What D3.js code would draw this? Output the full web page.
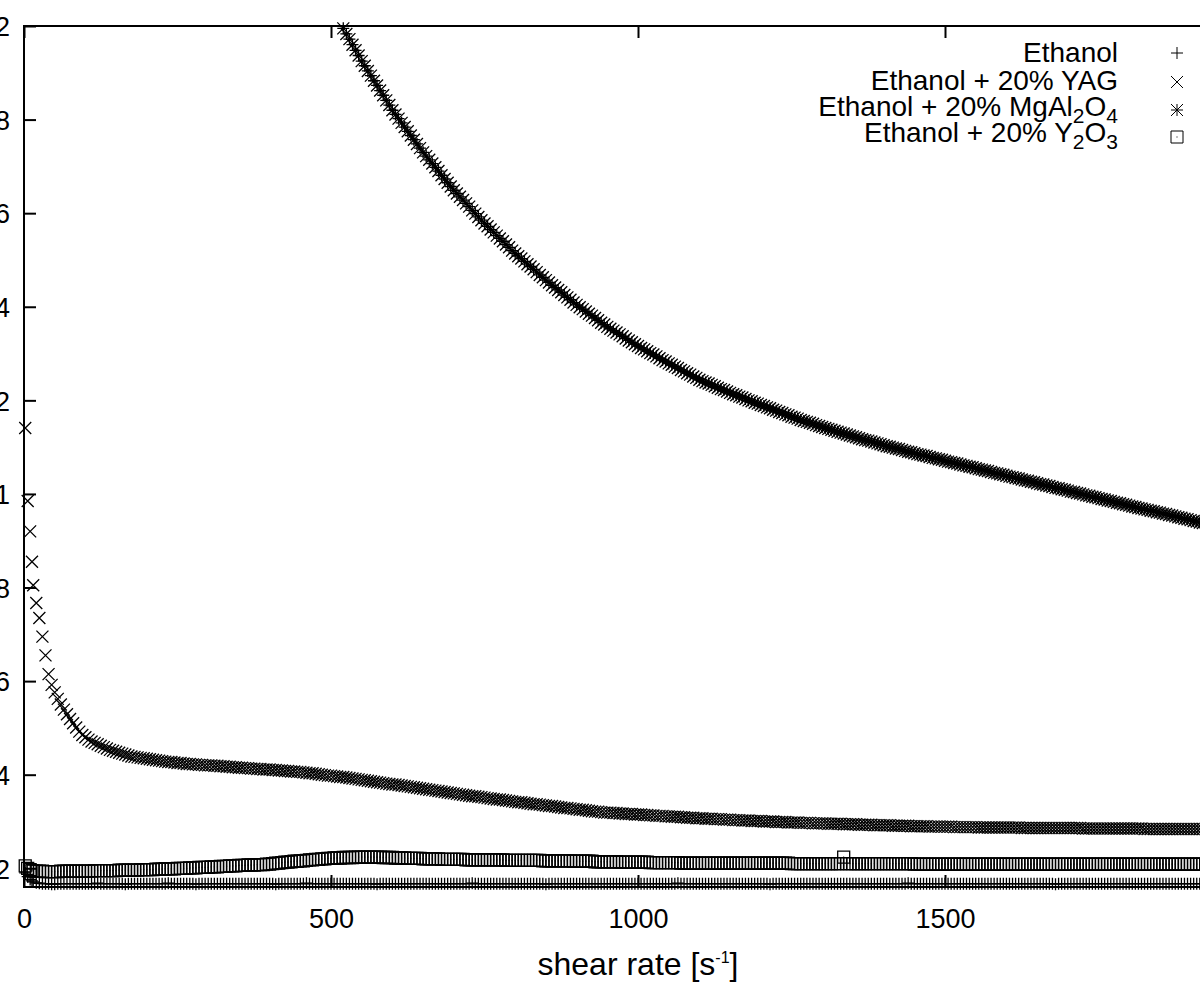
<!DOCTYPE html>
<html><head><meta charset="utf-8">
<script src="https://cdn.jsdelivr.net/npm/d3@7"></script>
<style>html,body{margin:0;padding:0;background:#fff;overflow:hidden}svg{display:block}</style>
</head><body><svg id="chart" width="1200" height="988"></svg>
<script>
// shear rate grid [1/s]
const shearRate = [2,6,10,13,
15,20,25,30,35,40,45,50,55,60,65,70,75,80,85,90,95,
100,105,110,115,120,125,130,135,140,145,150,155,160,165,170,175,180,185,190,195,
200,205,210,215,220,225,230,235,240,245,250,255,260,265,270,275,280,285,290,295,
300,305,310,315,320,325,330,335,340,345,350,355,360,365,370,375,380,385,390,395,
400,405,410,415,420,425,430,435,440,445,450,455,460,465,470,475,480,485,490,495,
500,505,510,515,520,525,530,535,540,545,550,555,560,565,570,575,580,585,590,595,
600,605,610,615,620,625,630,635,640,645,650,655,660,665,670,675,680,685,690,695,
700,705,710,715,720,725,730,735,740,745,750,755,760,765,770,775,780,785,790,795,
800,805,810,815,820,825,830,835,840,845,850,855,860,865,870,875,880,885,890,895,
900,905,910,915,920,925,930,935,940,945,950,955,960,965,970,975,980,985,990,995,
1000,1005,1010,1015,1020,1025,1030,1035,1040,1045,1050,1055,1060,1065,1070,1075,1080,1085,1090,1095,
1100,1105,1110,1115,1120,1125,1130,1135,1140,1145,1150,1155,1160,1165,1170,1175,1180,1185,1190,1195,
1200,1205,1210,1215,1220,1225,1230,1235,1240,1245,1250,1255,1260,1265,1270,1275,1280,1285,1290,1295,
1300,1305,1310,1315,1320,1325,1330,1335,1340,1345,1350,1355,1360,1365,1370,1375,1380,1385,1390,1395,
1400,1405,1410,1415,1420,1425,1430,1435,1440,1445,1450,1455,1460,1465,1470,1475,1480,1485,1490,1495,
1500,1505,1510,1515,1520,1525,1530,1535,1540,1545,1550,1555,1560,1565,1570,1575,1580,1585,1590,1595,
1600,1605,1610,1615,1620,1625,1630,1635,1640,1645,1650,1655,1660,1665,1670,1675,1680,1685,1690,1695,
1700,1705,1710,1715,1720,1725,1730,1735,1740,1745,1750,1755,1760,1765,1770,1775,1780,1785,1790,1795,
1800,1805,1810,1815,1820,1825,1830,1835,1840,1845,1850,1855,1860,1865,1870,1875,1880,1885,1890,1895,
1900,1905,1910,1915,1920];

// viscosities in mPa·s (converted to Pa·s for the axis)
const ethanol = [1.90,1.82,1.76,1.73,
1.71,1.69,1.68,1.67,1.67,1.67,1.66,1.66,1.67,1.67,1.67,1.67,1.67,1.67,1.67,1.67,1.67,
1.67,1.67,1.67,1.67,1.68,1.67,1.67,1.67,1.67,1.67,1.67,1.67,1.67,1.66,1.67,1.67,1.67,1.67,1.67,1.67,
1.67,1.67,1.67,1.67,1.67,1.67,1.67,1.68,1.67,1.67,1.67,1.67,1.67,1.67,1.67,1.67,1.66,1.67,1.67,1.67,
1.67,1.67,1.67,1.67,1.67,1.67,1.67,1.67,1.67,1.67,1.67,1.67,1.67,1.67,1.67,1.67,1.67,1.67,1.67,1.67,
1.67,1.67,1.66,1.67,1.67,1.67,1.67,1.67,1.67,1.67,1.67,1.67,1.68,1.67,1.67,1.67,1.67,1.67,1.67,1.67,
1.67,1.67,1.67,1.67,1.67,1.67,1.67,1.67,1.67,1.67,1.67,1.67,1.67,1.67,1.67,1.66,1.67,1.67,1.67,1.67,
1.67,1.67,1.67,1.67,1.67,1.67,1.67,1.67,1.67,1.67,1.67,1.67,1.67,1.67,1.67,1.67,1.67,1.67,1.67,1.67,
1.67,1.67,1.67,1.67,1.67,1.67,1.68,1.67,1.67,1.67,1.67,1.67,1.67,1.67,1.67,1.67,1.67,1.67,1.67,1.67,
1.67,1.67,1.67,1.67,1.67,1.67,1.67,1.67,1.67,1.67,1.66,1.67,1.67,1.67,1.67,1.67,1.67,1.67,1.67,1.67,
1.67,1.67,1.67,1.67,1.67,1.67,1.67,1.67,1.67,1.67,1.67,1.67,1.67,1.67,1.67,1.67,1.67,1.67,1.67,1.67,
1.67,1.67,1.67,1.67,1.67,1.67,1.67,1.67,1.67,1.67,1.67,1.67,1.67,1.68,1.67,1.67,1.67,1.67,1.67,1.67,
1.67,1.67,1.67,1.67,1.67,1.67,1.67,1.67,1.67,1.67,1.67,1.67,1.67,1.67,1.67,1.67,1.67,1.67,1.67,1.67,
1.67,1.67,1.67,1.66,1.67,1.67,1.67,1.67,1.67,1.67,1.67,1.67,1.67,1.67,1.67,1.67,1.67,1.67,1.67,1.67,
1.67,1.67,1.67,1.67,1.67,1.67,1.67,1.67,1.67,1.67,1.67,1.67,1.67,1.67,1.67,1.67,1.67,1.67,1.67,1.67,
1.67,1.67,1.67,1.67,1.67,1.67,1.67,1.67,1.68,1.67,1.67,1.67,1.67,1.67,1.67,1.67,1.67,1.67,1.67,1.67,
1.67,1.67,1.67,1.67,1.67,1.67,1.67,1.67,1.67,1.67,1.67,1.67,1.67,1.67,1.67,1.67,1.67,1.67,1.67,1.67,
1.67,1.67,1.67,1.67,1.67,1.67,1.67,1.67,1.67,1.67,1.67,1.67,1.67,1.67,1.67,1.67,1.66,1.67,1.67,1.67,
1.67,1.67,1.67,1.67,1.67,1.67,1.67,1.67,1.67,1.67,1.67,1.67,1.67,1.67,1.67,1.67,1.67,1.67,1.67,1.67,
1.67,1.67,1.67,1.67,1.67,1.67,1.67,1.67,1.67,1.67,1.67,1.67,1.67,1.67,1.67,1.67,1.67,1.67,1.67,1.67,
1.67,1.67,1.67,1.67,1.67];

const yag = [11.41,9.85,9.20,8.55,
8.05,7.67,7.35,6.95,6.55,6.15,5.92,5.76,5.62,5.50,5.39,5.29,5.19,5.10,5.01,4.92,4.85,
4.80,4.75,4.71,4.68,4.65,4.62,4.59,4.56,4.53,4.51,4.49,4.47,4.45,4.43,4.41,4.39,4.38,4.37,4.36,4.35,
4.34,4.33,4.32,4.31,4.30,4.29,4.28,4.27,4.27,4.26,4.25,4.25,4.24,4.23,4.23,4.22,4.22,4.21,4.21,4.20,
4.20,4.20,4.19,4.19,4.18,4.18,4.17,4.17,4.16,4.16,4.15,4.15,4.14,4.14,4.13,4.13,4.12,4.12,4.11,4.11,
4.11,4.10,4.10,4.09,4.09,4.08,4.08,4.07,4.07,4.06,4.06,4.05,4.04,4.03,4.03,4.02,4.01,4.00,3.99,3.98,
3.98,3.97,3.96,3.95,3.95,3.94,3.93,3.92,3.91,3.90,3.89,3.88,3.87,3.86,3.85,3.84,3.83,3.82,3.81,3.80,
3.79,3.79,3.78,3.77,3.76,3.75,3.74,3.73,3.72,3.71,3.70,3.69,3.68,3.67,3.66,3.65,3.64,3.63,3.62,3.61,
3.60,3.59,3.58,3.57,3.56,3.55,3.54,3.54,3.53,3.52,3.51,3.50,3.49,3.48,3.47,3.47,3.46,3.45,3.44,3.43,
3.42,3.41,3.41,3.40,3.39,3.38,3.37,3.37,3.36,3.35,3.34,3.33,3.33,3.32,3.31,3.30,3.29,3.29,3.28,3.27,
3.26,3.25,3.25,3.24,3.23,3.22,3.21,3.21,3.20,3.19,3.19,3.19,3.18,3.18,3.17,3.17,3.16,3.16,3.16,3.15,
3.15,3.15,3.14,3.14,3.13,3.13,3.12,3.12,3.12,3.11,3.11,3.10,3.10,3.10,3.09,3.09,3.08,3.08,3.08,3.07,
3.07,3.07,3.06,3.06,3.06,3.05,3.05,3.05,3.04,3.04,3.04,3.03,3.03,3.03,3.02,3.02,3.02,3.01,3.01,3.01,
3.01,3.00,3.00,3.00,3.00,2.99,2.99,2.99,2.99,2.98,2.98,2.98,2.98,2.97,2.97,2.97,2.97,2.96,2.96,2.96,
2.96,2.96,2.95,2.95,2.95,2.95,2.95,2.94,2.94,2.94,2.94,2.94,2.93,2.93,2.93,2.93,2.93,2.92,2.92,2.92,
2.92,2.92,2.92,2.91,2.91,2.91,2.91,2.91,2.91,2.90,2.90,2.90,2.90,2.90,2.90,2.89,2.89,2.89,2.89,2.89,
2.89,2.89,2.89,2.88,2.88,2.88,2.88,2.88,2.88,2.88,2.88,2.87,2.87,2.87,2.87,2.87,2.87,2.87,2.87,2.87,
2.87,2.87,2.87,2.87,2.87,2.86,2.86,2.86,2.86,2.86,2.86,2.86,2.86,2.86,2.86,2.86,2.86,2.86,2.86,2.86,
2.86,2.86,2.86,2.86,2.86,2.85,2.85,2.85,2.85,2.85,2.85,2.85,2.85,2.85,2.85,2.85,2.85,2.85,2.85,2.85,
2.85,2.85,2.85,2.85,2.85,2.84,2.84,2.84,2.84,2.84,2.84,2.84,2.84,2.84,2.84,2.84,2.84,2.84,2.84,2.84,
2.84,2.84,2.84,2.84,2.84];

// MgAl2O4 suspension: values above 0.02 Pa·s are off the chart, first visible point at 520 1/s
const mgal2o4StartShear = 520;
const mgal2o4 = [19.95,19.83,19.72,19.60,19.48,19.37,19.25,19.15,19.04,18.94,18.83,18.73,18.62,18.52,18.41,18.31,
18.20,18.11,18.02,17.93,17.84,17.75,17.66,17.57,17.48,17.39,17.30,17.22,17.14,17.06,16.98,16.90,16.81,16.73,16.65,16.57,
16.49,16.42,16.35,16.28,16.21,16.14,16.06,15.99,15.92,15.85,15.78,15.72,15.65,15.59,15.52,15.46,15.40,15.33,15.27,15.20,
15.14,15.08,15.03,14.97,14.91,14.86,14.80,14.74,14.68,14.63,14.57,14.52,14.46,14.41,14.36,14.31,14.25,14.20,14.15,14.09,
14.04,13.99,13.95,13.90,13.85,13.81,13.76,13.71,13.66,13.62,13.57,13.53,13.49,13.45,13.41,13.37,13.32,13.28,13.24,13.20,
13.16,13.12,13.09,13.05,13.01,12.98,12.94,12.90,12.86,12.83,12.79,12.76,12.72,12.69,12.65,12.62,12.58,12.55,12.51,12.48,
12.44,12.41,12.38,12.36,12.33,12.30,12.27,12.24,12.22,12.19,12.16,12.13,12.11,12.08,12.06,12.03,12.00,11.98,11.95,11.93,
11.90,11.88,11.85,11.83,11.80,11.78,11.75,11.73,11.70,11.68,11.65,11.63,11.61,11.58,11.56,11.54,11.52,11.50,11.47,11.45,
11.43,11.41,11.39,11.37,11.35,11.33,11.31,11.29,11.27,11.25,11.23,11.21,11.19,11.17,11.15,11.14,11.12,11.10,11.08,11.06,
11.04,11.02,11.01,10.99,10.97,10.96,10.94,10.92,10.90,10.89,10.87,10.85,10.84,10.82,10.81,10.79,10.77,10.76,10.74,10.73,
10.71,10.69,10.68,10.66,10.65,10.63,10.61,10.60,10.58,10.57,10.55,10.53,10.52,10.50,10.49,10.47,10.45,10.44,10.42,10.41,
10.39,10.37,10.36,10.34,10.33,10.31,10.29,10.28,10.26,10.25,10.23,10.21,10.20,10.18,10.17,10.15,10.13,10.12,10.10,10.09,
10.07,10.05,10.04,10.02,10.01,9.99,9.97,9.96,9.94,9.93,9.91,9.89,9.88,9.86,9.85,9.83,9.81,9.80,9.78,9.77,
9.75,9.73,9.72,9.70,9.69,9.67,9.66,9.64,9.63,9.61,9.60,9.58,9.57,9.55,9.54,9.52,9.50,9.49,9.47,9.46,
9.44,9.42,9.41,9.39,9.38];

const y2o3 = [2.05,2.00,1.97,1.95,
1.94,1.94,1.94,1.94,1.93,1.93,1.93,1.93,1.93,1.94,1.94,1.94,1.94,1.94,1.94,1.94,1.94,
1.94,1.94,1.94,1.95,1.95,1.95,1.95,1.95,1.95,1.95,1.95,1.96,1.96,1.96,1.96,1.96,1.96,1.96,1.97,1.97,
1.97,1.97,1.97,1.98,1.98,1.98,1.99,1.99,1.99,1.99,2.00,2.00,2.00,2.00,2.01,2.01,2.01,2.02,2.02,2.02,
2.02,2.03,2.03,2.03,2.04,2.04,2.04,2.05,2.05,2.05,2.06,2.06,2.06,2.07,2.07,2.07,2.08,2.08,2.08,2.09,
2.09,2.10,2.11,2.11,2.12,2.13,2.13,2.14,2.15,2.15,2.16,2.16,2.17,2.18,2.18,2.19,2.19,2.20,2.20,2.21,
2.21,2.22,2.22,2.22,2.23,2.23,2.23,2.23,2.24,2.24,2.24,2.24,2.24,2.24,2.24,2.24,2.24,2.23,2.23,2.23,
2.23,2.22,2.22,2.22,2.22,2.21,2.21,2.21,2.21,2.21,2.20,2.20,2.20,2.20,2.20,2.20,2.19,2.19,2.19,2.19,
2.19,2.19,2.19,2.19,2.18,2.18,2.18,2.18,2.18,2.18,2.18,2.18,2.18,2.18,2.18,2.18,2.18,2.17,2.17,2.17,
2.17,2.17,2.17,2.17,2.17,2.17,2.17,2.17,2.17,2.16,2.16,2.16,2.16,2.16,2.16,2.16,2.16,2.16,2.16,2.15,
2.15,2.15,2.15,2.15,2.15,2.15,2.14,2.14,2.14,2.14,2.14,2.14,2.14,2.14,2.13,2.13,2.13,2.13,2.13,2.13,
2.13,2.13,2.13,2.13,2.12,2.12,2.12,2.12,2.12,2.12,2.12,2.12,2.12,2.12,2.11,2.11,2.11,2.11,2.11,2.11,
2.11,2.11,2.11,2.11,2.11,2.11,2.11,2.11,2.11,2.11,2.11,2.11,2.11,2.11,2.11,2.11,2.11,2.11,2.11,2.11,
2.11,2.11,2.11,2.11,2.11,2.11,2.11,2.11,2.11,2.11,2.10,2.10,2.10,2.10,2.10,2.10,2.10,2.10,2.10,2.10,
2.10,2.10,2.10,2.10,2.10,2.10,2.10,2.24,2.10,2.10,2.10,2.10,2.10,2.10,2.10,2.10,2.10,2.10,2.10,2.10,
2.10,2.10,2.10,2.10,2.10,2.10,2.10,2.10,2.10,2.10,2.09,2.09,2.09,2.09,2.09,2.09,2.09,2.09,2.09,2.09,
2.09,2.09,2.09,2.09,2.09,2.09,2.09,2.09,2.09,2.09,2.09,2.09,2.09,2.09,2.09,2.09,2.09,2.09,2.09,2.09,
2.09,2.09,2.09,2.09,2.09,2.09,2.09,2.09,2.09,2.09,2.09,2.09,2.09,2.09,2.09,2.09,2.09,2.09,2.09,2.09,
2.09,2.09,2.09,2.09,2.09,2.09,2.09,2.09,2.09,2.09,2.09,2.09,2.09,2.09,2.09,2.09,2.09,2.09,2.09,2.09,
2.09,2.09,2.09,2.09,2.09,2.09,2.09,2.09,2.09,2.09,2.09,2.09,2.09,2.09,2.09,2.09,2.09,2.09,2.09,2.09,
2.09,2.09,2.09,2.09,2.09];

const xTicks = [0, 500, 1000, 1500];
const yTicks = [0.002, 0.004, 0.006, 0.008, 0.01, 0.012, 0.014, 0.016, 0.018, 0.02];
const legendLabels = [
  [["Ethanol", false]],
  [["Ethanol + 20% YAG", false]],
  [["Ethanol + 20% MgAl", false], ["2", true], ["O", false], ["4", true]],
  [["Ethanol + 20% Y", false], ["2", true], ["O", false], ["3", true]]
];
const markerKinds = ["plus", "cross", "star", "box"];
const xLabel = "shear rate [s";
const xLabelSup = "-1";

// ---------- drawing ----------
const W = 1200, H = 988;
const plot = {left: 24, top: 26, bottom: 887, right: 24 + 2000 * 0.614};
const svg = d3.select("#chart");
svg.append("rect").attr("width", W).attr("height", H).attr("fill", "#fff");

const x = d3.scaleLinear().domain([0, 2000]).range([plot.left, plot.right]);
const y = d3.scaleLinear().domain([0.0016, 0.02]).range([plot.bottom, plot.top]);

const FONT = "'Liberation Sans', Arial, Helvetica, sans-serif";
const hs = 6;
const markerPath = {
  plus: `M${-hs},0H${hs}M0,${-hs}V${hs}`,
  cross: `M${-hs},${-hs}L${hs},${hs}M${-hs},${hs}L${hs},${-hs}`,
  star: `M${-hs},0H${hs}M0,${-hs}V${hs}M${-hs},${-hs}L${hs},${hs}M${-hs},${hs}L${hs},${-hs}`,
  box: `M${-hs},${-hs}H${hs}V${hs}H${-hs}ZM-0.5,0H0.5`
};

function points(values, startShear) {
  const i0 = shearRate.indexOf(startShear);
  const out = [];
  values.forEach((v, i) => {
    const s = shearRate[i0 + i];
    if (s === undefined) return;
    const pa = v / 1000;
    if (pa > 0.02 || pa < 0.0016) return;
    out.push({s, v: pa});
  });
  return out;
}

const series = [
  {pts: points(ethanol, shearRate[0]), kind: "plus"},
  {pts: points(yag, shearRate[0]), kind: "cross"},
  {pts: points(mgal2o4, mgal2o4StartShear), kind: "star"},
  {pts: points(y2o3, shearRate[0]), kind: "box"}
];

// axes (gnuplot-style border with inward ticks)
const axes = svg.append("g");
const bottomAxis = d3.axisBottom(x).tickValues(xTicks).tickSize(-12).tickPadding(22).tickFormat(d3.format("d"));
const topAxis = d3.axisTop(x).tickValues(xTicks).tickSize(-12).tickFormat("");
const leftAxis = d3.axisLeft(y).tickValues(yTicks).tickSize(-12).tickPadding(14).tickFormat(d3.format("~g"));

const gB = axes.append("g").attr("transform", `translate(0,${plot.bottom})`).call(bottomAxis);
const gT = axes.append("g").attr("transform", `translate(0,${plot.top})`).call(topAxis);
const gL = axes.append("g").attr("transform", `translate(${plot.left},0)`).call(leftAxis);
[gB, gT, gL].forEach(g => {
  g.select(".domain").remove();
  g.selectAll(".tick line").attr("stroke", "#000").attr("stroke-width", 2);
  g.selectAll(".tick text").attr("fill", "#000").style("font-family", FONT).style("font-size", "27px");
});
gB.selectAll(".tick text").attr("dy", "0.71em");
gL.selectAll(".tick text").attr("dy", "0.36em");

// border
axes.append("rect")
  .attr("x", plot.left).attr("y", plot.top)
  .attr("width", plot.right - plot.left).attr("height", plot.bottom - plot.top)
  .attr("fill", "none").attr("stroke", "#000").attr("stroke-width", 2);

// data points
const marks = svg.append("g");
series.forEach(sr => {
  marks.append("g")
    .selectAll("path").data(sr.pts).join("path")
    .attr("d", markerPath[sr.kind])
    .attr("transform", d => `translate(${x(d.s).toFixed(2)},${y(d.v).toFixed(2)})`)
    .attr("fill", "none").attr("stroke", "#000").attr("stroke-width", 1.3);
});

// x label
const xl = svg.append("text")
  .attr("x", (plot.left + plot.right) / 2).attr("y", 975)
  .attr("text-anchor", "middle")
  .style("font-family", FONT).style("font-size", "32px").attr("fill", "#000");
xl.append("tspan").text(xLabel);
xl.append("tspan").text(xLabelSup).attr("dy", -12).style("font-size", "16px");
xl.append("tspan").text("]").attr("dy", 12);

// legend
const legendTextX = 1118, legendSymX = 1177;
const rowCenters = [53, 82, 110, 137];
const baselines = [62, 90, 116, 142];
const leg = svg.append("g");
legendLabels.forEach((parts, i) => {
  const t = leg.append("text")
    .attr("x", legendTextX).attr("y", baselines[i])
    .attr("text-anchor", "end")
    .style("font-family", FONT).style("font-size", "28px").attr("fill", "#000");
  let shifted = false;
  parts.forEach(([txt, sub]) => {
    const ts = t.append("tspan").text(txt);
    if (sub && !shifted) { ts.attr("dy", 7).style("font-size", "21px"); shifted = true; }
    else if (!sub && shifted) { ts.attr("dy", -7); shifted = false; }
    else if (sub) ts.style("font-size", "21px");
  });
  leg.append("path")
    .attr("d", markerPath[markerKinds[i]])
    .attr("transform", `translate(${legendSymX},${rowCenters[i]})`)
    .attr("fill", "none").attr("stroke", "#000").attr("stroke-width", 1);
});
</script>
</body></html>
